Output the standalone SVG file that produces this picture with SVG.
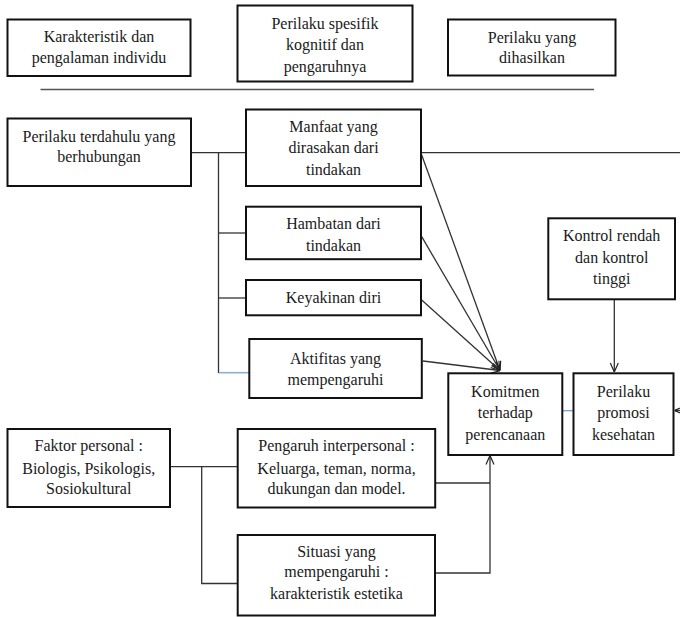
<svg xmlns="http://www.w3.org/2000/svg" width="680" height="617" viewBox="0 0 680 617">
<style>
.box{fill:#fff;stroke:#111;stroke-width:2}
.t{font-family:'Liberation Serif','Times New Roman',Tinos,'DejaVu Serif',serif;font-size:16px;fill:#1a1a1a;text-anchor:middle}
.c{fill:none;stroke:#333;stroke-width:1.3}
.blue{fill:none;stroke:#8cb0dc;stroke-width:1.6}
.blue2{fill:none;stroke:#6b96d0;stroke-width:1.2}
.rule{fill:none;stroke:#555;stroke-width:1.6}
</style>
<defs>
<marker id="arr" viewBox="0 0 10 10" refX="10" refY="5" markerWidth="10" markerHeight="10" orient="auto" markerUnits="userSpaceOnUse">
<path d="M1,1 L10,5 L1,9" fill="none" stroke="#222" stroke-width="1.2"/>
</marker>
</defs>
<rect width="680" height="617" fill="#fff"/>

<g id="connectors">
<line class="rule" x1="40.5" y1="89.5" x2="594" y2="89.5"/>
<polyline class="c" points="191,152.7 246,152.7"/>
<polyline class="c" points="218.5,152.7 218.5,373"/>
<polyline class="c" points="218.5,233 246,233"/>
<polyline class="c" points="218.5,298 246,298"/>
<polyline class="blue" points="219,372.7 249,372.7"/>
<polyline class="c" points="421,152.7 680,152.7"/>
<line class="c" x1="421.7" y1="155" x2="500" y2="370.5" marker-end="url(#arr)"/>
<line class="c" x1="421.7" y1="236.7" x2="500" y2="370.5" marker-end="url(#arr)"/>
<line class="c" x1="421.7" y1="300" x2="500" y2="370.5" marker-end="url(#arr)"/>
<line class="c" x1="423" y1="361" x2="500" y2="370.5" marker-end="url(#arr)"/>
<line class="c" x1="614.3" y1="299.5" x2="614.3" y2="372" marker-end="url(#arr)"/>
<line class="blue2" x1="562.5" y1="410.7" x2="573.5" y2="410.7"/>
<line class="c" x1="681" y1="410.5" x2="674.5" y2="410.5" marker-end="url(#arr)"/>
<polyline class="c" points="170,466.7 237.7,466.7"/>
<polyline class="c" points="201.7,466.7 201.7,583.5 237.7,583.5"/>
<polyline class="c" points="435,483 490,483"/>
<polyline class="c" points="435,573 490,573 490,455.5" marker-end="url(#arr)"/>
</g>

<g id="n-karakteristik">
<rect class="box" x="7.5" y="19.5" width="183" height="56.5"/>
<text class="t" font-family="'Liberation Serif', serif"><tspan x="99" y="42">Karakteristik dan</tspan><tspan x="99" y="63">pengalaman individu</tspan></text>
</g>
<g id="n-perilaku-spesifik">
<rect class="box" x="237.5" y="5.5" width="175" height="76"/>
<text class="t"><tspan x="325" y="28.5">Perilaku spesifik</tspan><tspan x="325" y="50">kognitif dan</tspan><tspan x="325" y="71.5">pengaruhnya</tspan></text>
</g>
<g id="n-perilaku-dihasilkan">
<rect class="box" x="448" y="19.5" width="167.5" height="56"/>
<text class="t"><tspan x="532" y="42.5">Perilaku yang</tspan><tspan x="532" y="63">dihasilkan</tspan></text>
</g>
<g id="n-terdahulu">
<rect class="box" x="7.5" y="118.5" width="183.5" height="67.5"/>
<text class="t"><tspan x="99" y="141.5">Perilaku terdahulu yang</tspan><tspan x="99" y="162">berhubungan</tspan></text>
</g>
<g id="n-manfaat">
<rect class="box" x="246" y="109.5" width="175" height="76.5"/>
<text class="t"><tspan x="333.5" y="131.5">Manfaat yang</tspan><tspan x="333.5" y="153.3">dirasakan dari</tspan><tspan x="333.5" y="175">tindakan</tspan></text>
</g>
<g id="n-hambatan">
<rect class="box" x="246" y="206.7" width="175" height="52.5"/>
<text class="t"><tspan x="333.5" y="229.3">Hambatan dari</tspan><tspan x="333.5" y="251">tindakan</tspan></text>
</g>
<g id="n-keyakinan">
<rect class="box" x="246" y="280" width="175" height="35.3"/>
<text class="t"><tspan x="333.5" y="302.7">Keyakinan diri</tspan></text>
</g>
<g id="n-aktifitas">
<rect class="box" x="249.3" y="339" width="172.5" height="59"/>
<text class="t"><tspan x="335.5" y="364">Aktifitas yang</tspan><tspan x="335.5" y="385">mempengaruhi</tspan></text>
</g>
<g id="n-kontrol">
<rect class="box" x="548.3" y="218.3" width="126.7" height="81"/>
<text class="t"><tspan x="611.7" y="241">Kontrol rendah</tspan><tspan x="611.7" y="262.7">dan kontrol</tspan><tspan x="611.7" y="283.5">tinggi</tspan></text>
</g>
<g id="n-komitmen">
<rect class="box" x="448.3" y="373.3" width="114" height="81.7"/>
<text class="t"><tspan x="505.3" y="396.7">Komitmen</tspan><tspan x="505.3" y="418.3">terhadap</tspan><tspan x="505.3" y="440">perencanaan</tspan></text>
</g>
<g id="n-promosi">
<rect class="box" x="573.5" y="373.3" width="100" height="81.7"/>
<text class="t"><tspan x="623.5" y="396.7">Perilaku</tspan><tspan x="623.5" y="418.3">promosi</tspan><tspan x="623.5" y="440">kesehatan</tspan></text>
</g>
<g id="n-faktor">
<rect class="box" x="7.5" y="429" width="162.5" height="78"/>
<text class="t"><tspan x="88.7" y="450.7">Faktor personal :</tspan><tspan x="88.7" y="474">Biologis, Psikologis,</tspan><tspan x="88.7" y="494">Sosiokultural</tspan></text>
</g>
<g id="n-pengaruh">
<rect class="box" x="237.7" y="429" width="197.5" height="78.5"/>
<text class="t"><tspan x="336.5" y="450.7">Pengaruh interpersonal :</tspan><tspan x="336.5" y="474">Keluarga, teman, norma,</tspan><tspan x="336.5" y="494">dukungan dan model.</tspan></text>
</g>
<g id="n-situasi">
<rect class="box" x="237.7" y="535" width="197.3" height="80.5"/>
<text class="t"><tspan x="336.5" y="556.7">Situasi yang</tspan><tspan x="336.5" y="577.3">mempengaruhi :</tspan><tspan x="336.5" y="599.3">karakteristik estetika</tspan></text>
</g>
</svg>
